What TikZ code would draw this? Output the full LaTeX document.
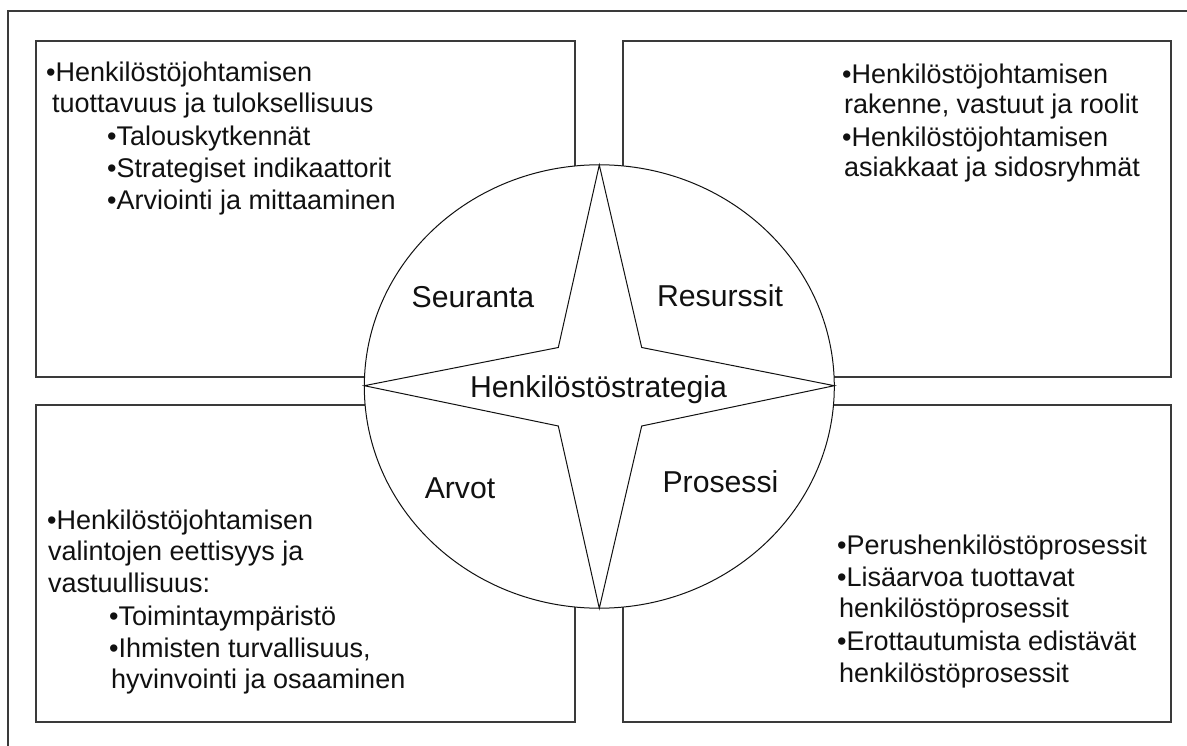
\documentclass[tikz,border=0pt]{standalone}
\usepackage{fontspec}
\setmainfont{Liberation Sans}
\usetikzlibrary{shapes.geometric}
\definecolor{edge}{HTML}{3A3A3A}
\definecolor{ink}{HTML}{111111}
\begin{document}
\begin{tikzpicture}[x=1pt,y=-1pt,
  frame/.style={draw=edge,line width=1.4pt},
  box/.style={draw=edge,line width=1.4pt,fill=white,inner sep=0pt,outer sep=0pt},
  wheel/.style={draw=ink,line width=1pt,fill=white,ellipse,inner sep=0pt},
  starline/.style={draw=ink,line width=1pt,line join=miter,fill=white},
  txt/.style={anchor=base west,inner sep=0pt,text=ink,font=\fontsize{27}{32}\selectfont},
  lbl/.style={anchor=base,inner sep=0pt,text=ink,font=\fontsize{30.2}{34}\selectfont}]
\useasboundingbox (0,0) rectangle (1187,746);

% outer frame (open at right and bottom)
\draw[frame] (8,746) -- (8,11) -- (1187,11);

% four quadrant boxes
\node[box,minimum width=539pt,minimum height=336pt] (tl) at (305.5,209) {};
\node[box,minimum width=548pt,minimum height=336pt] (tr) at (897,209) {};
\node[box,minimum width=539pt,minimum height=317pt] (bl) at (305.5,563.5) {};
\node[box,minimum width=548pt,minimum height=317pt] (br) at (897,563.5) {};

% central wheel with four-pointed star
\node[wheel,minimum width=470pt,minimum height=443.4pt] (wh) at (599.3,386.5) {};
\draw[starline] (599.3,165) -- (641.7,347.5) -- (834.3,385.7) -- (641.7,426)
  -- (599.3,608.3) -- (558.3,426) -- (364.3,385.7) -- (558.3,347.5) -- cycle;

% wheel labels
\node[lbl] (seur) at (473,308) {Seuranta};
\node[lbl] (resu) at (720,307) {Resurssit};
\node[lbl] (strat) at (598.5,397) {Henkilöstöstrategia};
\node[lbl] (arvo) at (460,498) {Arvot};
\node[lbl] (pros) at (720.5,492) {Prosessi};

% top left box text
\node[txt] (tl1) at (46,82) {•Henkilöstöjohtamisen};
\node[txt] (tl2) at (52,113) {tuottavuus ja tuloksellisuus};
\node[txt] (tl3) at (107,146) {•Talouskytkennät};
\node[txt] (tl4) at (107,178) {•Strategiset indikaattorit};
\node[txt] (tl5) at (107,210) {•Arviointi ja mittaaminen};

% top right box text
\node[txt] (tr1) at (842,84) {•Henkilöstöjohtamisen};
\node[txt] (tr2) at (844,114) {rakenne, vastuut ja roolit};
\node[txt] (tr3) at (842,147) {•Henkilöstöjohtamisen};
\node[txt] (tr4) at (844,177) {asiakkaat ja sidosryhmät};

% bottom left box text
\node[txt] (bl1) at (47,529) {•Henkilöstöjohtamisen};
\node[txt] (bl2) at (48,560) {valintojen eettisyys ja};
\node[txt] (bl3) at (48,592) {vastuullisuus:};
\node[txt] (bl4) at (109,625) {•Toimintaympäristö};
\node[txt] (bl5) at (109,657) {•Ihmisten turvallisuus,};
\node[txt] (bl6) at (111,688) {hyvinvointi ja osaaminen};

% bottom right box text
\node[txt] (br1) at (837,554) {•Perushenkilöstöprosessit};
\node[txt] (br2) at (837,586) {•Lisäarvoa tuottavat};
\node[txt] (br3) at (839,617) {henkilöstöprosessit};
\node[txt] (br4) at (837,650) {•Erottautumista edistävät};
\node[txt] (br5) at (839,682) {henkilöstöprosessit};
\end{tikzpicture}
\end{document}
